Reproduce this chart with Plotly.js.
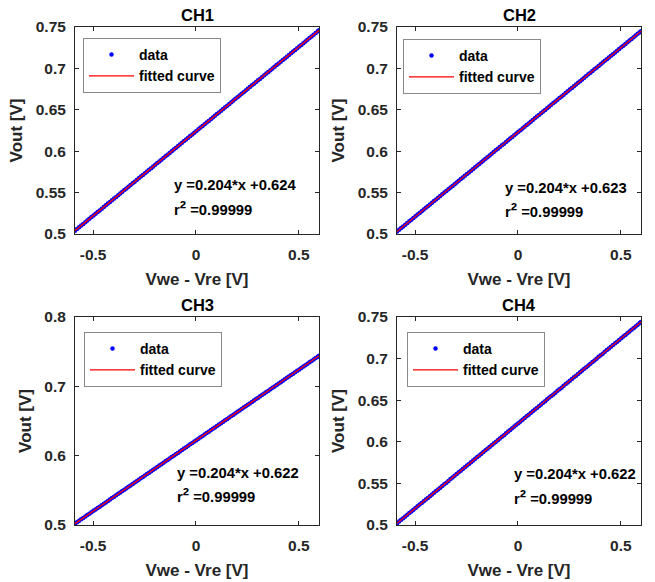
<!DOCTYPE html>
<html><head><meta charset="utf-8">
<script src="https://cdn.plot.ly/plotly-3.0.1.min.js"></script>
<style>html,body{margin:0;padding:0;background:#fff}#chart{width:655px;height:582px}</style>
</head><body><div id="chart"></div>
<script>
const channels = ['CH1', 'CH2', 'CH3', 'CH4'];
const xData = [-0.588,-0.578,-0.568,-0.558,-0.548,-0.538,-0.528,-0.518,-0.508,-0.498,
-0.488,-0.478,-0.468,-0.458,-0.448,-0.438,-0.428,-0.418,-0.408,-0.398,
-0.388,-0.378,-0.368,-0.358,-0.348,-0.338,-0.328,-0.318,-0.308,-0.298,
-0.288,-0.278,-0.268,-0.258,-0.248,-0.238,-0.228,-0.218,-0.208,-0.198,
-0.188,-0.178,-0.168,-0.158,-0.148,-0.138,-0.128,-0.118,-0.108,-0.098,
-0.088,-0.078,-0.068,-0.058,-0.048,-0.038,-0.028,-0.018,-0.008,0.002,
0.012,0.022,0.032,0.042,0.052,0.062,0.072,0.082,0.092,0.102,
0.112,0.122,0.132,0.142,0.152,0.162,0.172,0.182,0.192,0.202,
0.212,0.222,0.232,0.242,0.252,0.262,0.272,0.282,0.292,0.302,
0.312,0.322,0.332,0.342,0.352,0.362,0.372,0.382,0.392,0.402,
0.412,0.422,0.432,0.442,0.452,0.462,0.472,0.482,0.492,0.502,
0.512,0.522,0.532,0.542,0.552,0.562,0.572,0.582,0.592,0.598];
const yCH1 = [0.5040,0.5061,0.5081,0.5102,0.5122,0.5142,0.5163,0.5183,0.5204,0.5224,
0.5244,0.5265,0.5285,0.5306,0.5326,0.5346,0.5367,0.5387,0.5408,0.5428,
0.5448,0.5469,0.5489,0.5510,0.5530,0.5550,0.5571,0.5591,0.5612,0.5632,
0.5652,0.5673,0.5693,0.5714,0.5734,0.5754,0.5775,0.5795,0.5816,0.5836,
0.5856,0.5877,0.5897,0.5918,0.5938,0.5958,0.5979,0.5999,0.6020,0.6040,
0.6060,0.6081,0.6101,0.6122,0.6142,0.6162,0.6183,0.6203,0.6224,0.6244,
0.6264,0.6285,0.6305,0.6326,0.6346,0.6366,0.6387,0.6407,0.6428,0.6448,
0.6468,0.6489,0.6509,0.6530,0.6550,0.6570,0.6591,0.6611,0.6632,0.6652,
0.6672,0.6693,0.6713,0.6734,0.6754,0.6774,0.6795,0.6815,0.6836,0.6856,
0.6876,0.6897,0.6917,0.6938,0.6958,0.6978,0.6999,0.7019,0.7040,0.7060,
0.7080,0.7101,0.7121,0.7142,0.7162,0.7182,0.7203,0.7223,0.7244,0.7264,
0.7284,0.7305,0.7325,0.7346,0.7366,0.7386,0.7407,0.7427,0.7448,0.7460];
const yCH2 = [0.5030,0.5051,0.5071,0.5092,0.5112,0.5132,0.5153,0.5173,0.5194,0.5214,
0.5234,0.5255,0.5275,0.5296,0.5316,0.5336,0.5357,0.5377,0.5398,0.5418,
0.5438,0.5459,0.5479,0.5500,0.5520,0.5540,0.5561,0.5581,0.5602,0.5622,
0.5642,0.5663,0.5683,0.5704,0.5724,0.5744,0.5765,0.5785,0.5806,0.5826,
0.5846,0.5867,0.5887,0.5908,0.5928,0.5948,0.5969,0.5989,0.6010,0.6030,
0.6050,0.6071,0.6091,0.6112,0.6132,0.6152,0.6173,0.6193,0.6214,0.6234,
0.6254,0.6275,0.6295,0.6316,0.6336,0.6356,0.6377,0.6397,0.6418,0.6438,
0.6458,0.6479,0.6499,0.6520,0.6540,0.6560,0.6581,0.6601,0.6622,0.6642,
0.6662,0.6683,0.6703,0.6724,0.6744,0.6764,0.6785,0.6805,0.6826,0.6846,
0.6866,0.6887,0.6907,0.6928,0.6948,0.6968,0.6989,0.7009,0.7030,0.7050,
0.7070,0.7091,0.7111,0.7132,0.7152,0.7172,0.7193,0.7213,0.7234,0.7254,
0.7274,0.7295,0.7315,0.7336,0.7356,0.7376,0.7397,0.7417,0.7438,0.7450];
const yCH3 = [0.5020,0.5041,0.5061,0.5082,0.5102,0.5122,0.5143,0.5163,0.5184,0.5204,
0.5224,0.5245,0.5265,0.5286,0.5306,0.5326,0.5347,0.5367,0.5388,0.5408,
0.5428,0.5449,0.5469,0.5490,0.5510,0.5530,0.5551,0.5571,0.5592,0.5612,
0.5632,0.5653,0.5673,0.5694,0.5714,0.5734,0.5755,0.5775,0.5796,0.5816,
0.5836,0.5857,0.5877,0.5898,0.5918,0.5938,0.5959,0.5979,0.6000,0.6020,
0.6040,0.6061,0.6081,0.6102,0.6122,0.6142,0.6163,0.6183,0.6204,0.6224,
0.6244,0.6265,0.6285,0.6306,0.6326,0.6346,0.6367,0.6387,0.6408,0.6428,
0.6448,0.6469,0.6489,0.6510,0.6530,0.6550,0.6571,0.6591,0.6612,0.6632,
0.6652,0.6673,0.6693,0.6714,0.6734,0.6754,0.6775,0.6795,0.6816,0.6836,
0.6856,0.6877,0.6897,0.6918,0.6938,0.6958,0.6979,0.6999,0.7020,0.7040,
0.7060,0.7081,0.7101,0.7122,0.7142,0.7162,0.7183,0.7203,0.7224,0.7244,
0.7264,0.7285,0.7305,0.7326,0.7346,0.7366,0.7387,0.7407,0.7428,0.7440];
const yCH4 = [0.5019,0.5041,0.5062,0.5082,0.5101,0.5122,0.5144,0.5163,0.5183,0.5204,
0.5225,0.5245,0.5264,0.5286,0.5307,0.5326,0.5346,0.5367,0.5389,0.5408,
0.5427,0.5449,0.5470,0.5490,0.5509,0.5530,0.5552,0.5571,0.5591,0.5612,
0.5633,0.5653,0.5672,0.5694,0.5715,0.5734,0.5754,0.5775,0.5797,0.5816,
0.5835,0.5857,0.5878,0.5898,0.5917,0.5938,0.5960,0.5979,0.5999,0.6020,
0.6041,0.6061,0.6080,0.6102,0.6123,0.6142,0.6162,0.6183,0.6205,0.6224,
0.6243,0.6265,0.6286,0.6306,0.6325,0.6346,0.6368,0.6387,0.6407,0.6428,
0.6449,0.6469,0.6488,0.6510,0.6531,0.6550,0.6570,0.6591,0.6613,0.6632,
0.6651,0.6673,0.6694,0.6714,0.6733,0.6754,0.6776,0.6795,0.6815,0.6836,
0.6857,0.6877,0.6896,0.6918,0.6939,0.6958,0.6978,0.6999,0.7021,0.7040,
0.7059,0.7081,0.7102,0.7122,0.7141,0.7162,0.7184,0.7203,0.7223,0.7244,
0.7265,0.7285,0.7304,0.7326,0.7347,0.7366,0.7386,0.7407,0.7429,0.7440];
const fitX = [-0.588, 0.598];
const fitCH1 = [0.5040, 0.7460];
const fitCH2 = [0.5030, 0.7450];
const fitCH3 = [0.5020, 0.7440];
const fitCH4 = [0.5020, 0.7440];
const equations = ['y =0.204*x +0.624', 'y =0.204*x +0.623', 'y =0.204*x +0.622', 'y =0.204*x +0.622'];
const r2Values = ['0.99999', '0.99999', '0.99999', '0.99999'];
const xTicks = [-0.5, 0, 0.5];
const xTickText = ['-0.5', '0', '0.5'];
const yTicksTop = [0.5, 0.55, 0.6, 0.65, 0.7, 0.75];
const yTickTextTop = ['0.5', '0.55', '0.6', '0.65', '0.7', '0.75'];
const yTicksCH3 = [0.5, 0.6, 0.7, 0.8];
const yTickTextCH3 = ['0.5', '0.6', '0.7', '0.8'];
const seriesNames = ['data', 'fitted curve'];

const yData = [yCH1, yCH2, yCH3, yCH4];
const fitY = [fitCH1, fitCH2, fitCH3, fitCH4];

const W = 655, H = 582;
const FONT = 'Liberation Sans, Arial, Helvetica, sans-serif';
const INK = '#262626';
const bold = arr => arr.map(s => '<b>' + s + '</b>');
// pixel boxes [left, right, top, bottom]
const boxes = [[75, 319, 27, 234], [397, 641, 27, 234], [75, 319, 317, 525], [397, 641, 317, 525]];
const legendPos = [[83, 38], [403, 39], [84, 332], [407, 332]];
const eqPos = [[172, 185, 208], [503, 188, 210], [175, 473, 495], [512, 474, 497]];
const yRanges = [[0.5, 0.75], [0.5, 0.75], [0.5, 0.8], [0.5, 0.75]];
const yTickSets = [[yTicksTop, yTickTextTop], [yTicksTop, yTickTextTop], [yTicksCH3, yTickTextCH3], [yTicksTop, yTickTextTop]];

const traces = [];
const layout = {
  width: W, height: H,
  margin: {l: 0, r: 0, t: 0, b: 0},
  paper_bgcolor: '#ffffff', plot_bgcolor: 'rgba(0,0,0,0)',
  font: {family: FONT, color: INK},
  annotations: [],
  showlegend: true
};

channels.forEach((ch, i) => {
  const n = i + 1;
  const sfx = n === 1 ? '' : String(n);
  const legendId = n === 1 ? 'legend' : 'legend' + n;
  traces.push({
    x: xData, y: yData[i], type: 'scatter', mode: 'markers', name: '<b>' + seriesNames[0] + '</b>',
    xaxis: 'x' + sfx, yaxis: 'y' + sfx, legend: legendId,
    marker: {color: '#0000ff', size: 4.5}
  });
  traces.push({
    x: fitX, y: fitY[i], type: 'scatter', mode: 'lines', name: '<b>' + seriesNames[1] + '</b>',
    xaxis: 'x' + sfx, yaxis: 'y' + sfx, legend: legendId,
    line: {color: '#ff0000', width: 1.3}
  });
  const b = boxes[i];
  const common = {
    showline: true, mirror: 'ticks', linecolor: INK, linewidth: 1,
    ticks: 'inside', ticklen: 4, tickcolor: INK, showgrid: false, zeroline: false,
    tickfont: {family: FONT, size: 15.5, color: INK}
  };
  layout['xaxis' + sfx] = Object.assign({}, common, {
    domain: [b[0] / W, b[1] / W], anchor: 'y' + sfx,
    range: [fitX[0], fitX[1]], tickvals: xTicks, ticktext: bold(xTickText),
    ticklabelstandoff: 6,
    title: {text: '<b>Vwe - Vre [V]</b>', font: {family: FONT, size: 17, color: INK}, standoff: 11}
  });
  layout['yaxis' + sfx] = Object.assign({}, common, {
    domain: [1 - b[3] / H, 1 - b[2] / H], anchor: 'x' + sfx,
    range: yRanges[i], tickvals: yTickSets[i][0], ticktext: bold(yTickSets[i][1]),
    ticklabelstandoff: 5,
    title: {text: '<b>Vout [V]</b>', font: {family: FONT, size: 17, color: INK}, standoff: 8}
  });
  layout[legendId] = {
    x: legendPos[i][0] / W, y: 1 - legendPos[i][1] / H, xanchor: 'left', yanchor: 'top',
    bgcolor: '#ffffff', bordercolor: '#8a8a8a', borderwidth: 1,
    font: {family: FONT, size: 14, color: '#000000'},
    itemwidth: 45, tracegroupgap: 0
  };
  layout.annotations.push({
    text: '<b>' + ch + '</b>', xref: 'paper', yref: 'paper', x: (b[0] + b[1]) / 2 / W, y: 1 - (b[2] - 12) / H,
    xanchor: 'center', yanchor: 'middle', showarrow: false,
    font: {family: FONT, size: 16.5, color: '#000000'}
  });
  const e = eqPos[i];
  layout.annotations.push({
    text: '<b>' + equations[i] + '</b>', xref: 'paper', yref: 'paper', x: e[0] / W, y: 1 - e[1] / H,
    xanchor: 'left', yanchor: 'middle', showarrow: false,
    font: {family: FONT, size: 14.8, color: '#000000'}
  });
  layout.annotations.push({
    text: '<b>r<span style="font-size:19px">²</span> =' + r2Values[i] + '</b>', xref: 'paper', yref: 'paper', x: e[0] / W, y: 1 - e[2] / H,
    xanchor: 'left', yanchor: 'middle', showarrow: false,
    font: {family: FONT, size: 14.8, color: '#000000'}
  });
});

Plotly.newPlot('chart', traces, layout, {displayModeBar: false, staticPlot: true});
</script>
</body></html>
